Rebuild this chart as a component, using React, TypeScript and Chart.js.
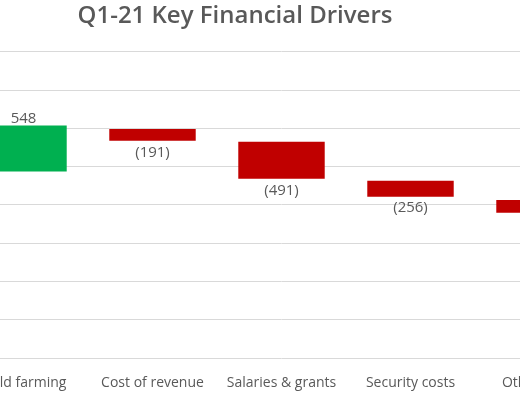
import { useEffect, useRef } from 'react';
import { Chart, registerables, Plugin } from 'chart.js';

Chart.register(...registerables);

// categories (the reference is a crop: first and last labels are cut by the frame)
const categories = ['Yield farming', 'Cost of revenue', 'Salaries & grants', 'Security costs', 'Other costs'];
// floating bar ends (y scale 0..4000)
const barLow = [2435, 2837, 2340, 2108, 1899];
const barHigh = [3037, 2990, 2824, 2314, 2065];
const valueLabels = ['548', '(191)', '(491)', '(256)', ''];
const barColors = ['#00b050', '#c00000', '#c00000', '#c00000', '#c00000'];
const yTicks = [0, 500, 1000, 1500, 2000, 2500, 3000, 3500, 4000];

const gray = '#595959';

// draws the value text above rises and below falls
const valueLabelPlugin: Plugin<'bar'> = {
  id: 'valueLabels',
  afterDatasetsDraw(chart) {
    const ctx = chart.ctx;
    const meta = chart.getDatasetMeta(0);
    ctx.save();
    ctx.fillStyle = gray;
    ctx.font = '15px "Open Sans"';
    ctx.textAlign = 'center';
    meta.data.forEach((el, i) => {
      const text = valueLabels[i];
      if (!text) return;
      const { x, y, base } = el.getProps(['x', 'y', 'base'], true) as any;
      const top = Math.min(y, base);
      const bottom = Math.max(y, base);
      if (barColors[i] === '#00b050') {
        ctx.textBaseline = 'alphabetic';
        ctx.fillText(text, x, top - 3);
      } else {
        ctx.textBaseline = 'top';
        ctx.fillText(text, x, bottom + 4);
      }
    });
    ctx.restore();
  },
};

export default function App() {
  const canvasRef = useRef<HTMLCanvasElement>(null);

  useEffect(() => {
    if (!canvasRef.current) return;
    const chart = new Chart(canvasRef.current, {
      type: 'bar',
      data: {
        labels: categories,
        datasets: [
          {
            data: barLow.map((lo, i) => [lo, barHigh[i]]) as any,
            backgroundColor: barColors,
            borderWidth: 0,
            barPercentage: 0.67,
            categoryPercentage: 1,
          },
        ],
      },
      options: {
        responsive: true,
        maintainAspectRatio: false,
        animation: false,
        layout: { padding: 0 },
        plugins: {
          legend: { display: false },
          tooltip: { enabled: false },
          title: {
            display: true,
            text: 'Q1-21 Key Financial Drivers',
            color: gray,
            font: { family: '"Open Sans"', size: 24, weight: 600 },
            padding: { top: 2, bottom: 21 },
          },
        },
        scales: {
          x: {
            grid: { display: false, drawTicks: false },
            border: { display: false },
            ticks: {
              color: gray,
              font: { family: '"Open Sans"', size: 14 },
              padding: 17,
              maxRotation: 0,
              autoSkip: false,
            },
            afterFit: (axis) => {
              axis.height = 42;
            },
          },
          y: {
            min: yTicks[0],
            max: yTicks[yTicks.length - 1],
            afterBuildTicks: (axis) => {
              axis.ticks = yTicks.map((v) => ({ value: v }));
            },
            grid: { color: '#d9d9d9', lineWidth: 1, drawTicks: false },
            border: { display: false },
            ticks: { display: false },
            afterFit: (axis) => {
              axis.width = 93;
            },
          },
        },
      },
      plugins: [valueLabelPlugin],
    });
    return () => chart.destroy();
  }, []);

  return (
    <div style={{ position: 'fixed', left: 0, top: 0, width: 520, height: 400, overflow: 'hidden', background: '#fff' }}>
      <div style={{ position: 'absolute', left: -134, top: 0, width: 738, height: 400 }}>
        <canvas ref={canvasRef} />
      </div>
    </div>
  );
}
